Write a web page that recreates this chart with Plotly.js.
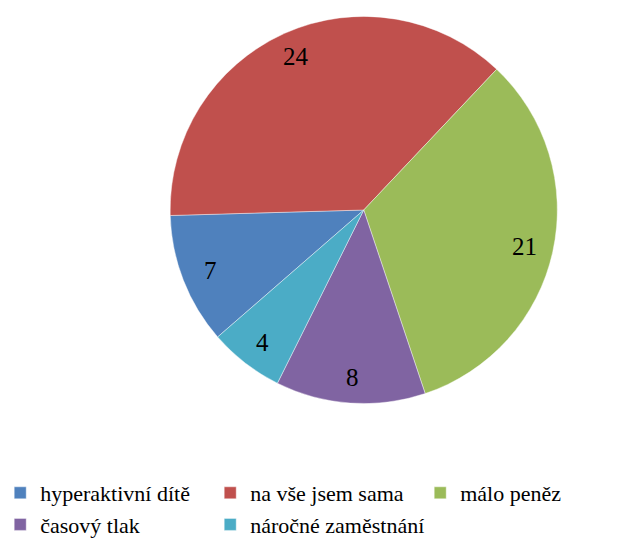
<!DOCTYPE html>
<html>
<head>
<meta charset="utf-8">
<script src="https://cdn.plot.ly/plotly-3.0.1.min.js"></script>
<style>html,body{margin:0;padding:0;background:#fff;}#chart{width:631px;height:547px;}</style>
</head>
<body>
<div id="chart"></div>
<script>
const categories = ["hyperaktivní dítě", "na vše jsem sama", "málo peněz", "časový tlak", "náročné zaměstnání"];
const counts = [7, 24, 21, 8, 4];
const sliceColors = ["#4F81BD", "#C0504D", "#9BBB59", "#8064A2", "#4BACC6"];

const W = 631, H = 547;
const MB = 120;
const PH = H - MB;
const ROT = 229;
const SERIF = "Liberation Serif";
const dom = {x: [162 / W, 556 / W], y: [1 - 407 / PH, 1 - 13 / PH]};

// data labels placed radially from the slice angles derived from the data
const total = counts.reduce((a, b) => a + b, 0);
const cxPx = (dom.x[0] + dom.x[1]) / 2 * W;
const cyPx = (1 - (dom.y[0] + dom.y[1]) / 2) * PH;
const rPx = 195;
let start = ROT;
const annotations = counts.map((v) => {
  const span = v / total * 360;
  const mid = (start + span / 2) * Math.PI / 180;
  start += span;
  const rr = rPx * 0.86;
  const px = cxPx + rr * Math.sin(mid);
  const py = cyPx - rr * Math.cos(mid);
  return {
    xref: "paper", yref: "paper",
    x: px / W, y: (PH - py) / PH,
    xanchor: "center", yanchor: "middle",
    text: String(v), showarrow: false,
    font: {family: SERIF, size: 25, color: "#000"}
  };
});

const trace = {
  type: "pie",
  labels: categories,
  values: counts,
  sort: false,
  direction: "clockwise",
  rotation: ROT,
  marker: {colors: sliceColors, line: {width: 0.75, color: "rgba(255,255,255,0.55)"}},
  textinfo: "none",
  hoverinfo: "label+value",
  domain: dom
};
const layout = {
  width: W, height: H,
  margin: {l: 0, r: 0, t: 0, b: MB},
  paper_bgcolor: "#fff",
  font: {family: SERIF, size: 22, color: "#000"},
  showlegend: true,
  annotations: annotations,
  legend: {
    orientation: "h",
    x: -0.0174, xanchor: "left",
    y: (PH - 472) / PH, yanchor: "top",
    entrywidth: 165,
    font: {family: SERIF, size: 22, color: "#000"},
    itemclick: false
  }
};
Plotly.newPlot("chart", [trace], layout, {displayModeBar: false, staticPlot: true});
</script>
</body>
</html>
